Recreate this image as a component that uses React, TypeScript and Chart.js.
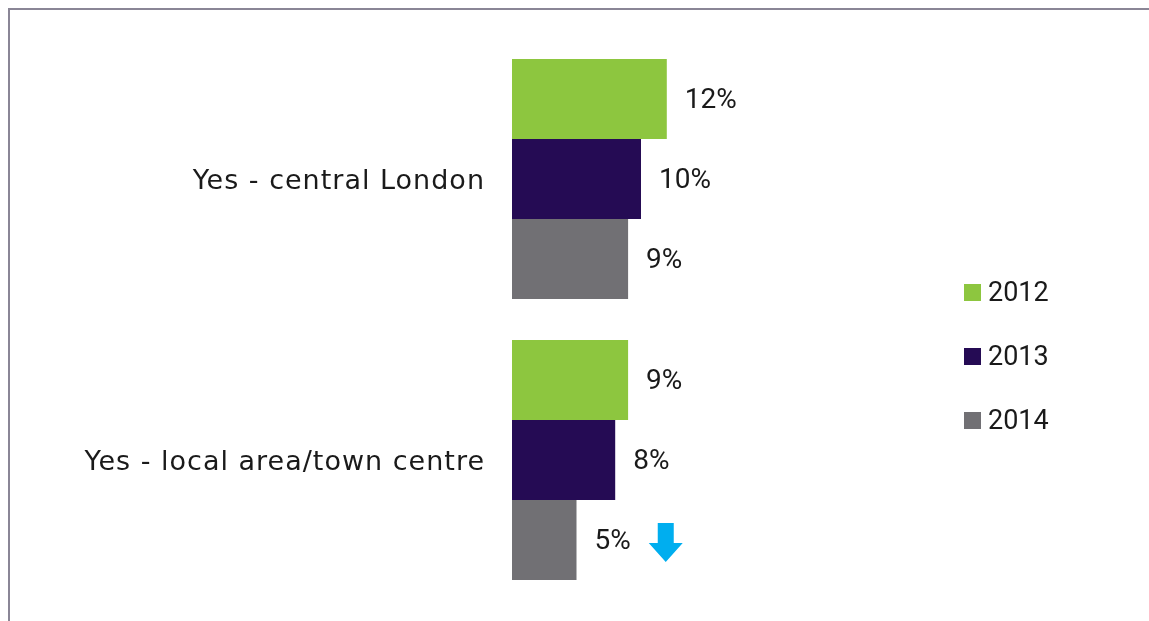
import React, { useEffect, useRef } from "react";
import { Chart, registerables } from "chart.js";

Chart.register(...registerables);

const categories = ["Yes - central London", "Yes - local area/town centre"];
const seriesLabels = ["2012", "2013", "2014"];
const values2012 = [12, 9];
const values2013 = [10, 8];
const values2014 = [9, 5];
const downArrow2014 = [false, true];
const colors = ["#8dc63f", "#250b54", "#717074"];

const CAT_FONT = "'DejaVu Sans', sans-serif";
const NUM_FONT = "Roboto, 'Open Sans', sans-serif";

const spacingPlugin = {
  id: "tickSpacing",
  beforeDraw(chart: any) {
    chart.ctx.letterSpacing = "1px";
  },
  beforeDatasetsDraw(chart: any) {
    chart.ctx.letterSpacing = "0px";
  },
};

const labelPlugin = {
  id: "valueLabels",
  afterDatasetsDraw(chart: any) {
    const ctx = chart.ctx;
    ctx.save();
    ctx.letterSpacing = "0px";
    ctx.font = `28px ${NUM_FONT}`;
    ctx.textBaseline = "middle";
    ctx.textAlign = "left";
    chart.data.datasets.forEach((ds: any, di: number) => {
      const meta = chart.getDatasetMeta(di);
      meta.data.forEach((bar: any, i: number) => {
        const txt = `${ds.data[i]}%`;
        const x = bar.x + 18;
        ctx.fillStyle = "#1a1a1a";
        ctx.fillText(txt, x, bar.y + 2);
        if (di === 2 && downArrow2014[i]) {
          const w = ctx.measureText(txt).width;
          const cx = x + w + 35;
          const top = bar.y - 17;
          const headY = bar.y + 3;
          const tip = bar.y + 22;
          ctx.fillStyle = "#00aeef";
          ctx.beginPath();
          ctx.moveTo(cx - 8, top);
          ctx.lineTo(cx + 8, top);
          ctx.lineTo(cx + 8, headY);
          ctx.lineTo(cx + 17, headY);
          ctx.lineTo(cx, tip);
          ctx.lineTo(cx - 17, headY);
          ctx.lineTo(cx - 8, headY);
          ctx.closePath();
          ctx.fill();
        }
      });
    });
    ctx.restore();
  },
};

const legendPlugin = {
  id: "customLegend",
  afterDraw(chart: any) {
    const ctx = chart.ctx;
    ctx.save();
    ctx.letterSpacing = "0px";
    ctx.font = `27px ${NUM_FONT}`;
    ctx.textBaseline = "middle";
    ctx.textAlign = "left";
    chart.data.datasets.forEach((ds: any, di: number) => {
      const y = 283 + di * 64;
      ctx.fillStyle = ds.backgroundColor;
      ctx.fillRect(954, y - 9, 17, 17);
      ctx.fillStyle = "#1a1a1a";
      ctx.fillText(ds.label, 978, y + 1);
    });
    ctx.restore();
  },
};

export default function App() {
  const ref = useRef<HTMLCanvasElement>(null);
  useEffect(() => {
    if (!ref.current) return;
    const chart = new Chart(ref.current, {
      type: "bar",
      data: {
        labels: categories,
        datasets: [
          { label: seriesLabels[0], data: values2012, backgroundColor: colors[0] },
          { label: seriesLabels[1], data: values2013, backgroundColor: colors[1] },
          { label: seriesLabels[2], data: values2014, backgroundColor: colors[2] },
        ],
      },
      options: {
        indexAxis: "y",
        animation: false,
        responsive: false,
        maintainAspectRatio: false,
        layout: { padding: { left: 0, right: 121, top: 28.5, bottom: 20.5 } },
        datasets: { bar: { categoryPercentage: 240 / 281, barPercentage: 1 } },
        plugins: { legend: { display: false }, tooltip: { enabled: false } },
        scales: {
          x: { display: false, min: 0, max: 40 },
          y: {
            afterFit: (s: any) => {
              s.width = 502;
              s.paddingTop = 0;
              s.paddingBottom = 0;
            },
            grid: { display: false, drawTicks: false },
            border: { display: false },
            ticks: {
              padding: 27,
              labelOffset: 3,
              color: "#1a1a1a",
              font: { family: CAT_FONT, size: 27 },
            },
          },
        },
      },
      plugins: [spacingPlugin, labelPlugin, legendPlugin],
    });
    return () => chart.destroy();
  }, []);
  return (
    <div
      style={{
        position: "fixed",
        left: 8,
        top: 8,
        width: 1141,
        height: 613,
        borderTop: "2px solid #8a8696",
        borderLeft: "2px solid #8a8696",
        overflow: "hidden",
        background: "#fff",
      }}
    >
      <canvas ref={ref} width={1139} height={611} style={{ display: "block" }} />
    </div>
  );
}
